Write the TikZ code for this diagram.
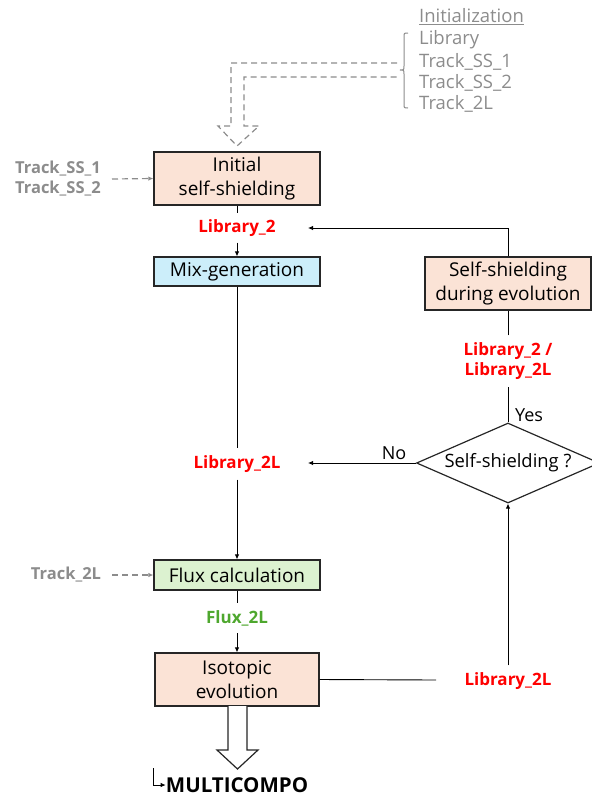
\documentclass[tikz,border=0pt]{standalone}
\usepackage{fontspec}
\setmainfont{Open Sans}
\usetikzlibrary{shapes.geometric,arrows.meta,calc}
\definecolor{peach}{HTML}{FBE3D6}
\definecolor{skyb}{HTML}{CCEEFA}
\definecolor{mint}{HTML}{DCF2D0}
\definecolor{libred}{HTML}{FF0000}
\definecolor{fluxgreen}{HTML}{4EA72E}
\definecolor{trackgray}{HTML}{8C8C8C}
\definecolor{edge}{HTML}{262626}
\tikzset{
  stepbox/.style={draw=edge, line width=1.2pt, minimum width=166pt, align=center,
    inner sep=0pt, font=\fontsize{19}{24}\selectfont},
  redlbl/.style={text=libred, font=\bfseries\fontsize{17}{20}\selectfont, align=center, inner sep=0pt},
  graylbl/.style={text=trackgray, font=\bfseries\fontsize{16.5}{20}\selectfont, align=left, inner sep=0pt},
  initlbl/.style={text=trackgray, font=\fontsize{18.5}{21}\selectfont, anchor=west, inner sep=0pt},
  flow/.style={draw=black, line width=0.9pt},
  flowarr/.style={flow, -{Latex[length=5pt,width=4.5pt]}},
  feed/.style={draw=trackgray, line width=1.2pt, dash pattern=on 6pt off 4pt, -{Latex[length=5pt,width=4.5pt]}},
  plain/.style={font=\fontsize{18}{20}\selectfont, inner sep=0pt}
}
\begin{document}
\begin{tikzpicture}[x=1pt,y=-1pt]
\useasboundingbox (0,0) rectangle (592,796);

% process boxes
\node[stepbox, fill=peach, minimum height=53pt] (init) at (237,178.5) {Initial\\self-shielding};
\node[stepbox, fill=skyb, minimum height=29pt] (mix) at (237,271.5) {Mix-generation};
\node[stepbox, fill=mint, minimum height=30pt] (flux) at (237,575) {Flux calculation};
\node[stepbox, fill=peach, minimum height=53pt, minimum width=164pt] (iso) at (237,679.5) {Isotopic\\evolution};
\node[stepbox, fill=peach, minimum height=53pt] (ssev) at (508,283.5) {Self-shielding\\during evolution};

% decision
\node[draw=edge, line width=1.2pt, diamond, aspect=2.28, minimum width=183pt, minimum height=80pt,
      inner sep=0pt, font=\fontsize{18.4}{20}\selectfont] (dec) at (508,463) {Self-shielding ?};

% data labels
\node[redlbl] (lib2) at (237,228) {Library\_2};
\node[redlbl] (lib2L) at (237,464) {Library\_2L};
\node[text=fluxgreen, font=\bfseries\fontsize{17}{20}\selectfont, inner sep=0pt] (flx) at (237,618) {Flux\_2L};
\node[redlbl] (libboth) at (508,361) {Library\_2 /\\Library\_2L};
\node[redlbl] (libiso) at (508,681) {Library\_2L};
\node[graylbl] (tss) at (58,178.5) {Track\_SS\_1\\Track\_SS\_2};
\node[graylbl] (t2l) at (66,575) {Track\_2L};
\node[plain] (yes) at (529,415) {Yes};
\node[plain] (no) at (394,453) {No};
\node[font=\bfseries\fontsize{20.5}{22}\selectfont, inner sep=0pt] (mc) at (237,785) {MULTICOMPO};

% initialization list
\node[initlbl] (ini) at (419,17) {\underline{Initialization}};
\node[initlbl] (ilib) at (419,40) {Library};
\node[initlbl] (iss1) at (419,62) {Track\_SS\_1};
\node[initlbl] (iss2) at (419,83) {Track\_SS\_2};
\node[initlbl] (i2l) at (419,104) {Track\_2L};

% main chain
\draw[flow] (init.south) -- ($(lib2.north)+(0,-6)$);
\draw[flowarr] ($(lib2.south)+(0,6)$) -- (mix.north);
\draw[flow] (mix.south) -- ($(lib2L.north)+(0,-7)$);
\draw[flowarr] ($(lib2L.south)+(0,7)$) -- (flux.north);
\draw[flow] (flux.south) -- ($(flx.north)+(0,-7)$);
\draw[flowarr] ($(flx.south)+(0,7)$) -- (iso.north);

% evolution loop
\draw[flow] (iso.east) -- (436,680);
\draw[flowarr] ($(libiso.north)+(0,-7)$) -- (dec.south);
\draw[flowarr] (dec.west) -- (308,463);
\draw[flow] (dec.north) -- ($(libboth.south)+(0,7)$);
\draw[flow] ($(libboth.north)+(0,-7)$) -- (ssev.south);
\draw[flowarr] (ssev.north) |- (308,228);

% track inputs
\draw[feed] (112,179) -- (init.west);
\draw[feed] (112,575) -- (flux.west);

% brace around the initialization list
\draw[draw=trackgray, line width=1pt]
  (408,33) .. controls (404,33) .. (404,37) -- (404,66)
  .. controls (404,70) .. (400,70) .. controls (404,70) .. (404,74)
  -- (404,104) .. controls (404,108) .. (408,108);

% dashed hollow arrow from the initialization list
\draw[draw=trackgray, line width=1.2pt, dash pattern=on 6pt off 4pt, line join=miter]
  (397,63) -- (231,63) -- (231,126) -- (218,126) -- (237,146) -- (259,126) -- (244,126) -- (244,77) -- (397,77);

% hollow output arrow
\draw[draw=edge, line width=1.2pt, fill=white, line join=miter]
  (228,706) -- (228,750) -- (217,750) -- (237.5,769) -- (258,750) -- (247,750) -- (247,706);

% small elbow arrow to MULTICOMPO
\draw[flowarr] (153,768) |- (mc.west);
\end{tikzpicture}
\end{document}
